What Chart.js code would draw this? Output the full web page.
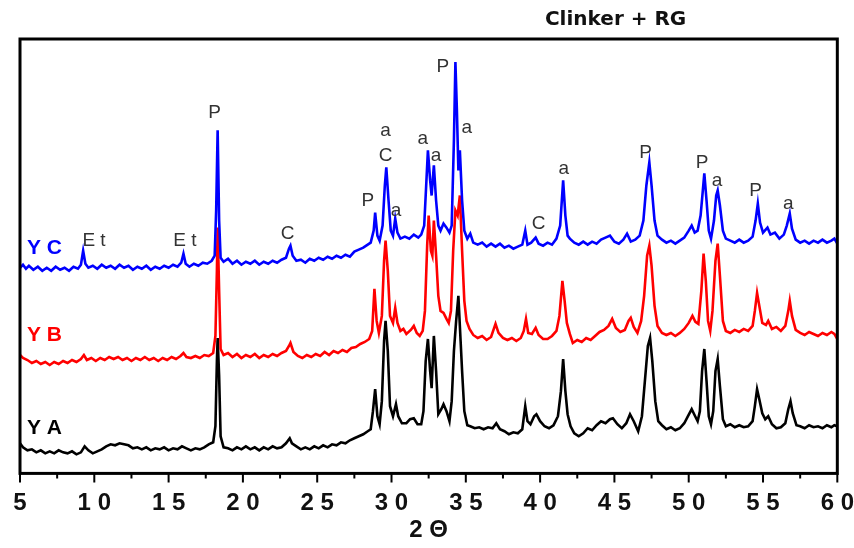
<!DOCTYPE html>
<html lang="fr">

<head>
    <meta charset="UTF-8" />
    <title>Clinker + RG</title>
    <style>
        body {
            margin: 0;
            padding: 0;
            background: #fff;
        }

        #wrap {
            width: 854px;
            height: 548px;
        }
    </style>
    <script src="https://cdn.jsdelivr.net/npm/chart.js"></script>
</head>

<body>
    <div id="wrap"><canvas id="xrd" width="854" height="548"></canvas></div>

    <script>
        // Diffractogrammes : [2 theta, intensité relative]
        const serieYC = [
            [5.0, 203], [5.2, 206], [5.4, 202], [5.6, 205], [5.9, 201], [6.2, 204], [6.5, 200], [6.8, 203],
            [7.1, 200], [7.4, 204], [7.7, 201], [8.0, 203], [8.3, 200], [8.6, 204], [8.9, 202], [9.1, 206],
            [9.25, 220], [9.4, 207], [9.6, 203], [9.9, 205], [10.2, 202], [10.5, 206], [10.8, 203], [11.1, 205],
            [11.4, 202], [11.7, 206], [12.0, 203], [12.3, 205], [12.6, 201], [12.9, 204], [13.2, 202], [13.5, 205],
            [13.8, 201], [14.1, 204], [14.4, 202], [14.7, 205], [15.0, 203], [15.3, 206], [15.6, 204], [15.85, 208],
            [16.0, 217], [16.15, 207], [16.4, 204], [16.7, 207], [17.0, 205], [17.3, 208], [17.6, 207], [17.9, 210],
            [18.1, 215], [18.2, 260], [18.3, 340], [18.4, 250], [18.5, 213], [18.7, 209], [19.0, 212], [19.3, 207],
            [19.6, 210], [19.9, 206], [20.2, 209], [20.5, 207], [20.8, 210], [21.1, 206], [21.4, 209], [21.7, 207],
            [22.0, 210], [22.3, 208], [22.6, 211], [22.9, 213], [23.1, 222], [23.2, 225], [23.35, 215], [23.6, 210],
            [23.9, 211], [24.2, 208], [24.5, 212], [24.8, 210], [25.1, 213], [25.4, 211], [25.7, 214], [26.0, 212],
            [26.3, 215], [26.6, 213], [26.9, 216], [27.2, 214], [27.5, 219], [27.8, 221], [28.1, 223], [28.4, 226],
            [28.6, 228], [28.8, 240], [28.9, 258], [29.05, 235], [29.2, 230], [29.4, 245], [29.55, 285], [29.65, 303],
            [29.8, 270], [29.95, 240], [30.1, 235], [30.25, 252], [30.4, 238], [30.6, 232], [30.9, 234], [31.2, 232],
            [31.5, 236], [31.8, 233], [32.0, 236], [32.2, 245], [32.35, 290], [32.45, 320], [32.6, 290], [32.7, 275],
            [32.85, 305], [33.0, 270], [33.15, 245], [33.3, 240], [33.5, 247], [33.7, 243], [33.9, 238], [34.05, 245],
            [34.2, 330], [34.3, 408], [34.4, 360], [34.5, 300], [34.6, 320], [34.75, 270], [34.9, 240], [35.1, 232],
            [35.3, 237], [35.5, 228], [35.8, 226], [36.1, 228], [36.4, 224], [36.7, 227], [37.0, 224], [37.3, 227],
            [37.6, 223], [37.9, 225], [38.2, 222], [38.5, 224], [38.8, 226], [39.0, 240], [39.15, 226], [39.4, 228],
            [39.7, 233], [39.9, 227], [40.2, 225], [40.5, 228], [40.8, 226], [41.1, 232], [41.35, 245], [41.55, 290],
            [41.7, 255], [41.85, 235], [42.0, 232], [42.3, 228], [42.6, 226], [42.9, 229], [43.2, 226], [43.5, 229],
            [43.8, 227], [44.1, 231], [44.4, 233], [44.7, 235], [45.0, 229], [45.3, 227], [45.6, 231], [45.85, 237],
            [46.1, 229], [46.4, 231], [46.7, 235], [46.95, 250], [47.15, 285], [47.35, 308], [47.5, 285], [47.7, 250],
            [47.9, 235], [48.2, 231], [48.5, 228], [48.8, 230], [49.1, 227], [49.4, 230], [49.7, 233], [50.0, 240],
            [50.2, 245], [50.4, 238], [50.6, 240], [50.8, 255], [50.95, 280], [51.05, 297], [51.2, 270], [51.35, 240],
            [51.5, 232], [51.7, 250], [51.85, 275], [51.95, 280], [52.1, 265], [52.3, 240], [52.5, 232], [52.8, 230],
            [53.1, 228], [53.4, 231], [53.7, 228], [54.0, 230], [54.3, 234], [54.5, 250], [54.65, 267], [54.8, 248],
            [55.0, 238], [55.3, 243], [55.5, 236], [55.8, 238], [56.1, 232], [56.4, 236], [56.6, 245], [56.8, 257],
            [56.95, 242], [57.2, 231], [57.5, 228], [57.8, 230], [58.1, 227], [58.4, 230], [58.7, 228], [59.0, 231],
            [59.3, 228], [59.6, 230], [59.8, 232], [60.0, 227]
        ];

        const serieYB = [
            [5.0, 116], [5.2, 113], [5.5, 111], [5.8, 108], [6.1, 110], [6.4, 107], [6.7, 109], [7.0, 106],
            [7.3, 109], [7.6, 107], [7.9, 110], [8.2, 108], [8.5, 111], [8.8, 109], [9.1, 112], [9.3, 116],
            [9.5, 111], [9.8, 113], [10.1, 110], [10.4, 113], [10.7, 111], [11.0, 114], [11.3, 112], [11.6, 114],
            [11.9, 111], [12.2, 113], [12.5, 110], [12.8, 113], [13.1, 111], [13.4, 114], [13.7, 111], [14.0, 113],
            [14.3, 110], [14.6, 113], [14.9, 111], [15.2, 114], [15.5, 112], [15.8, 115], [16.0, 118], [16.2, 114],
            [16.5, 113], [16.8, 115], [17.1, 113], [17.4, 116], [17.7, 115], [18.0, 118], [18.15, 135], [18.25, 200],
            [18.3, 243], [18.4, 180], [18.5, 122], [18.7, 116], [19.0, 118], [19.3, 114], [19.6, 117], [19.9, 113],
            [20.2, 116], [20.5, 114], [20.8, 117], [21.1, 113], [21.4, 116], [21.7, 114], [22.0, 117], [22.3, 115],
            [22.6, 118], [22.9, 120], [23.1, 125], [23.2, 128], [23.4, 119], [23.7, 115], [24.0, 113], [24.3, 116],
            [24.6, 114], [24.9, 117], [25.2, 115], [25.5, 119], [25.8, 116], [26.1, 120], [26.4, 118], [26.7, 121],
            [27.0, 119], [27.3, 123], [27.6, 124], [27.9, 127], [28.2, 129], [28.5, 132], [28.7, 140], [28.85, 182],
            [29.0, 150], [29.15, 138], [29.35, 155], [29.5, 210], [29.6, 230], [29.75, 200], [29.9, 155], [30.1, 148],
            [30.25, 163], [30.4, 148], [30.6, 140], [30.8, 142], [31.0, 137], [31.3, 141], [31.5, 145], [31.7, 138],
            [31.9, 135], [32.1, 140], [32.25, 160], [32.4, 225], [32.5, 255], [32.65, 220], [32.75, 215], [32.85, 250],
            [33.0, 215], [33.15, 175], [33.3, 160], [33.5, 158], [33.7, 152], [33.85, 148], [34.0, 160], [34.15, 220],
            [34.3, 260], [34.45, 255], [34.6, 275], [34.75, 220], [34.9, 170], [35.05, 150], [35.25, 142], [35.5, 136],
            [35.8, 133], [36.1, 135], [36.4, 131], [36.7, 134], [37.0, 147], [37.2, 138], [37.5, 133], [37.8, 131],
            [38.1, 133], [38.4, 130], [38.7, 133], [38.9, 140], [39.05, 152], [39.2, 138], [39.45, 137], [39.7, 143],
            [39.9, 136], [40.2, 132], [40.5, 132], [40.8, 135], [41.1, 140], [41.3, 155], [41.5, 190], [41.65, 170],
            [41.8, 148], [42.0, 137], [42.2, 128], [42.5, 131], [42.8, 129], [43.1, 133], [43.4, 131], [43.7, 135],
            [44.0, 139], [44.3, 141], [44.6, 145], [44.85, 152], [45.1, 143], [45.4, 139], [45.7, 141], [45.95, 150],
            [46.1, 153], [46.3, 144], [46.55, 138], [46.8, 150], [47.0, 175], [47.2, 215], [47.35, 225], [47.5, 205],
            [47.7, 165], [47.9, 145], [48.2, 138], [48.5, 136], [48.8, 138], [49.1, 135], [49.4, 138], [49.7, 142],
            [50.0, 148], [50.25, 155], [50.45, 149], [50.65, 147], [50.85, 180], [51.0, 217], [51.15, 190], [51.3, 150],
            [51.45, 140], [51.6, 160], [51.8, 210], [51.95, 227], [52.1, 195], [52.3, 150], [52.5, 140], [52.8, 138],
            [53.1, 141], [53.4, 139], [53.7, 142], [54.0, 140], [54.3, 145], [54.45, 160], [54.6, 178], [54.75, 165],
            [54.95, 148], [55.2, 146], [55.35, 150], [55.6, 142], [55.9, 144], [56.2, 140], [56.5, 145], [56.7, 160],
            [56.8, 170], [56.95, 155], [57.2, 141], [57.5, 138], [57.8, 136], [58.1, 139], [58.4, 137], [58.7, 135],
            [59.0, 138], [59.3, 136], [59.6, 139], [59.8, 137], [60.0, 132]
        ];

        const serieYA = [
            [5.0, 28], [5.2, 24], [5.5, 21], [5.8, 22], [6.1, 19], [6.4, 21], [6.7, 18], [7.0, 20],
            [7.3, 18], [7.6, 21], [7.9, 19], [8.2, 18], [8.5, 20], [8.8, 17], [9.1, 19], [9.35, 25],
            [9.6, 21], [9.9, 18], [10.2, 20], [10.5, 22], [10.8, 25], [11.1, 27], [11.4, 26], [11.7, 28],
            [12.0, 27], [12.3, 26], [12.6, 23], [12.9, 24], [13.2, 22], [13.5, 24], [13.8, 21], [14.1, 23],
            [14.4, 22], [14.7, 24], [15.0, 21], [15.3, 23], [15.6, 22], [15.9, 25], [16.2, 23], [16.5, 21],
            [16.8, 23], [17.1, 22], [17.4, 24], [17.7, 27], [18.0, 29], [18.15, 45], [18.25, 110], [18.3, 133],
            [18.4, 95], [18.5, 35], [18.7, 24], [19.0, 23], [19.3, 21], [19.6, 24], [19.9, 22], [20.2, 25],
            [20.5, 22], [20.8, 24], [21.1, 21], [21.4, 24], [21.7, 22], [22.0, 25], [22.3, 23], [22.6, 24],
            [22.9, 28], [23.15, 33], [23.3, 28], [23.6, 25], [23.9, 22], [24.2, 24], [24.5, 22], [24.8, 25],
            [25.1, 23], [25.4, 26], [25.7, 24], [26.0, 27], [26.3, 26], [26.6, 29], [26.9, 28], [27.2, 31],
            [27.5, 33], [27.8, 35], [28.1, 37], [28.4, 40], [28.6, 42], [28.75, 60], [28.9, 82], [29.05, 55],
            [29.2, 47], [29.35, 70], [29.5, 130], [29.6, 150], [29.75, 120], [29.9, 65], [30.1, 55], [30.3, 67],
            [30.45, 55], [30.7, 48], [31.0, 48], [31.25, 52], [31.5, 53], [31.75, 47], [32.0, 47], [32.15, 60],
            [32.3, 110], [32.45, 132], [32.6, 100], [32.7, 83], [32.85, 135], [33.0, 100], [33.15, 57], [33.35, 62],
            [33.5, 67], [33.7, 60], [33.9, 50], [34.05, 70], [34.2, 120], [34.35, 150], [34.5, 175], [34.65, 130],
            [34.75, 100], [34.9, 60], [35.1, 46], [35.3, 45], [35.6, 43], [35.9, 44], [36.2, 42], [36.5, 44],
            [36.8, 43], [37.05, 48], [37.3, 42], [37.6, 40], [37.9, 37], [38.2, 39], [38.5, 38], [38.8, 42],
            [39.0, 65], [39.15, 50], [39.35, 47], [39.6, 55], [39.75, 57], [40.0, 50], [40.3, 45], [40.6, 43],
            [40.9, 46], [41.2, 55], [41.4, 80], [41.55, 112], [41.7, 80], [41.85, 57], [42.05, 45], [42.3, 38],
            [42.6, 35], [42.9, 38], [43.2, 43], [43.5, 41], [43.8, 46], [44.1, 50], [44.4, 48], [44.7, 52],
            [44.9, 53], [45.2, 47], [45.5, 43], [45.8, 48], [46.05, 57], [46.3, 50], [46.6, 40], [46.85, 55],
            [47.05, 90], [47.25, 125], [47.4, 133], [47.55, 110], [47.75, 70], [47.95, 50], [48.2, 46], [48.5, 42],
            [48.8, 44], [49.1, 41], [49.4, 43], [49.7, 48], [49.95, 55], [50.2, 62], [50.4, 56], [50.6, 50],
            [50.75, 60], [50.9, 100], [51.05, 122], [51.2, 90], [51.35, 55], [51.5, 47], [51.65, 60], [51.8, 100],
            [51.95, 112], [52.1, 85], [52.3, 52], [52.5, 45], [52.8, 47], [53.1, 44], [53.4, 46], [53.7, 44],
            [54.0, 45], [54.3, 50], [54.45, 65], [54.6, 82], [54.75, 72], [54.95, 58], [55.15, 52], [55.35, 55],
            [55.6, 47], [55.9, 43], [56.2, 44], [56.5, 48], [56.7, 62], [56.85, 70], [57.0, 58], [57.25, 46],
            [57.5, 45], [57.8, 43], [58.1, 46], [58.4, 44], [58.7, 45], [59.0, 43], [59.3, 46], [59.6, 44],
            [59.8, 46], [60.0, 45]
        ];

        // Identification des pics (au-dessus de YC)
        const pics = [
            [9.98, 230, 'E t'], [16.1, 230, 'E t'], [18.1, 357, 'P'], [23.0, 237, 'C'],
            [28.4, 270, 'P'], [29.6, 315, 'C'], [29.6, 340, 'a'], [30.3, 260, 'a'],
            [32.1, 332, 'a'], [33.0, 315, 'a'], [33.45, 403, 'P'], [35.06, 343, 'a'],
            [39.9, 247, 'C'], [41.6, 302, 'a'], [47.1, 318, 'P'], [50.9, 308, 'P'],
            [51.9, 290, 'a'], [54.5, 280, 'P'], [56.7, 267, 'a']
        ];

        // Noms des échantillons
        const echantillons = [
            [5.47, 222, 'Y C', '#0000ff'],
            [5.47, 136, 'Y B', '#ff0000'],
            [5.47, 43, 'Y A', '#000000']
        ];

        const titre = 'Clinker + RG';

        const cadre = {
            id: 'cadre',
            afterDraw(chart) {
                const ctx = chart.ctx;
                const a = chart.chartArea;
                const xs = chart.scales.x;
                const ys = chart.scales.y;
                ctx.save();

                // étiquettes des pics
                ctx.fillStyle = '#333';
                ctx.font = '19px "Liberation Sans", Arial, sans-serif';
                ctx.textAlign = 'center';
                ctx.textBaseline = 'middle';
                pics.forEach(p => {
                    ctx.fillText(p[2], xs.getPixelForValue(p[0]), ys.getPixelForValue(p[1]));
                });

                ctx.font = 'bold 21px "Liberation Sans", Arial, sans-serif';
                ctx.textAlign = 'left';
                echantillons.forEach(e => {
                    ctx.fillStyle = e[3];
                    ctx.fillText(e[2], xs.getPixelForValue(e[0]), ys.getPixelForValue(e[1]));
                });

                ctx.fillStyle = '#111';
                ctx.font = 'bold 20px "DejaVu Sans", Verdana, sans-serif';
                ctx.textAlign = 'center';
                ctx.fillText(titre, xs.getPixelForValue(45.08), a.top - 19);

                // cadre
                ctx.strokeStyle = '#000';
                ctx.lineWidth = 3;
                ctx.strokeRect(a.left, a.top, a.right - a.left, a.bottom - a.top);

                // graduations vers l'extérieur
                ctx.lineWidth = 2;
                ctx.beginPath();
                for (let v = xs.min; v <= xs.max; v += 2.5) {
                    const px = xs.getPixelForValue(v);
                    const len = (v % 5 === 0) ? 9 : 5;
                    ctx.moveTo(px, a.bottom);
                    ctx.lineTo(px, a.bottom + len);
                }
                ctx.stroke();
                ctx.restore();
            }
        };

        function trace(data, couleur) {
            return {
                data: data.map(p => ({ x: p[0], y: p[1] })),
                borderColor: couleur,
                backgroundColor: couleur,
                borderWidth: 2.6,
                pointRadius: 0,
                showLine: true,
                tension: 0
            };
        }

        new Chart(document.getElementById('xrd').getContext('2d'), {
            type: 'scatter',
            data: {
                // bleu dessous, noir au-dessus
                datasets: [
                    trace(serieYC, '#0000ff'),
                    trace(serieYB, '#ff0000'),
                    trace(serieYA, '#000000')
                ]
            },
            options: {
                responsive: false,
                animation: false,
                layout: {
                    padding: { left: 20, right: 15, top: 39, bottom: 0 }
                },
                plugins: {
                    legend: { display: false },
                    tooltip: { enabled: false }
                },
                scales: {
                    x: {
                        type: 'linear',
                        min: 5,
                        max: 60,
                        grid: {
                            display: true,
                            drawOnChartArea: false,
                            drawTicks: true,
                            tickLength: 16,
                            tickColor: 'rgba(0,0,0,0)'
                        },
                        border: { display: false },
                        ticks: {
                            stepSize: 5,
                            padding: 0,
                            color: '#111',
                            maxRotation: 0,
                            font: { size: 24, weight: 'bold', family: '"Liberation Sans", Arial, sans-serif' },
                            callback: v => String(v).split('').join(' ')
                        },
                        title: {
                            display: true,
                            text: '2 \u0398',
                            color: '#111',
                            padding: { top: -2, bottom: 3 },
                            font: { size: 24, weight: 'bold', family: '"Liberation Sans", Arial, sans-serif' }
                        }
                    },
                    y: {
                        type: 'linear',
                        min: -2,
                        max: 431,
                        display: false
                    }
                }
            },
            plugins: [cadre]
        });
    </script>
</body>

</html>
